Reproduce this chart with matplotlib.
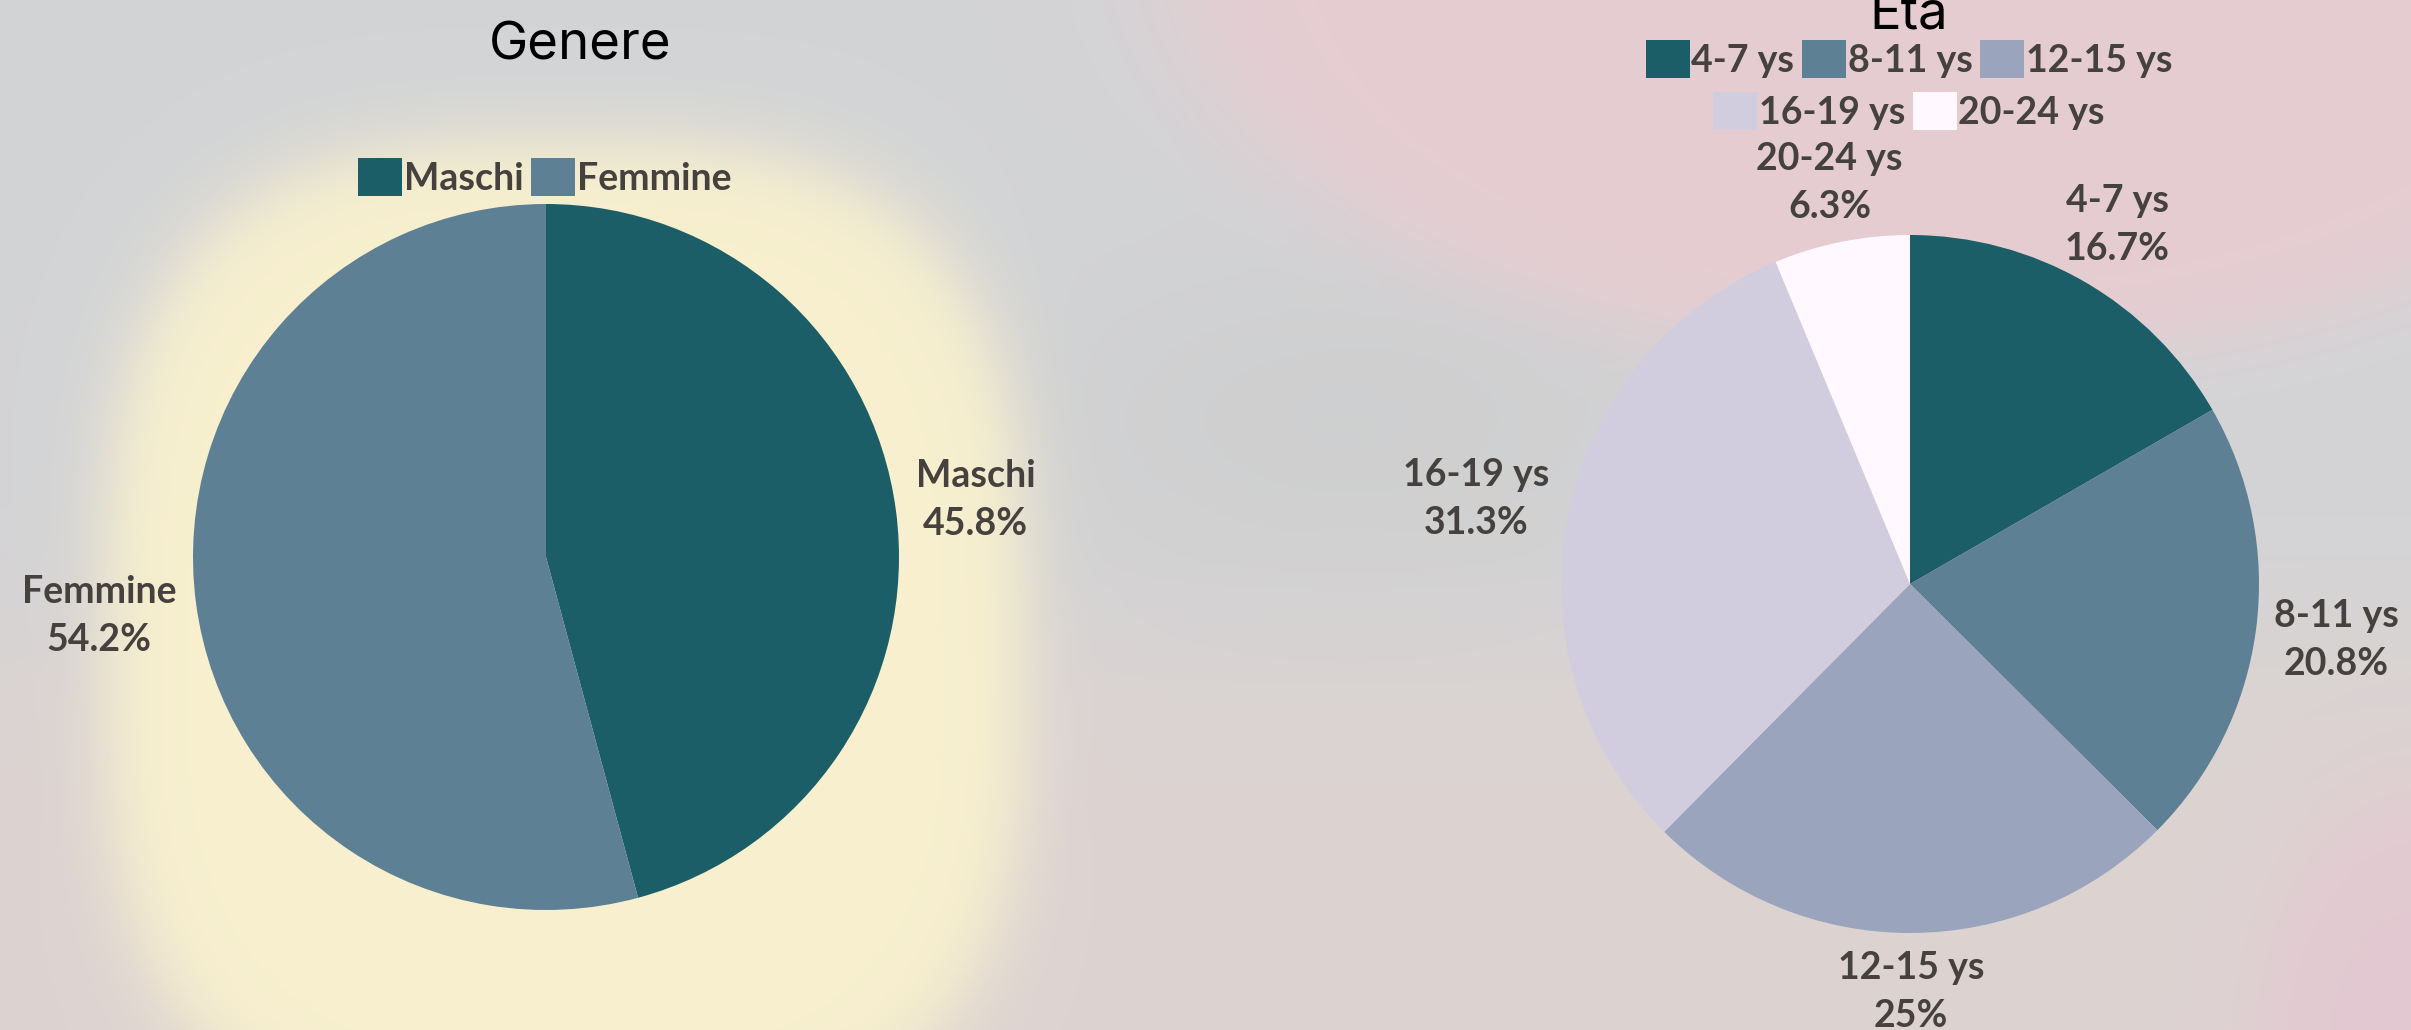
import numpy as np
import matplotlib
matplotlib.use("Agg")
import matplotlib.pyplot as plt

# dati
genere_labels = ["Maschi", "Femmine"]
genere_values = [45.8, 54.2]
eta_labels = ["4-7 ys", "8-11 ys", "12-15 ys", "16-19 ys", "20-24 ys"]
eta_values = [16.7, 20.8, 25, 31.3, 6.3]

genere_colors = ["#1b5e67", "#5e8094"]
eta_colors = ["#1b5e67", "#5e8094", "#9aa4bd", "#d1cddf", "#fff8fe"]

TEXT_COL = "#45413e"
LABEL_FONT = ["Lato", "DejaVu Sans"]
TITLE_FONT = ["Inter", "DejaVu Sans"]
FS = 27

W, H = 2411, 1030
fig = plt.figure(figsize=(W / 100, H / 100), dpi=100)
renderer = fig.canvas.get_renderer()

# sfondo sfocato (foto)
yy, xx = np.mgrid[0:H, 0:W].astype(float)
img = np.zeros((H, W, 3))
img[:] = (0.827, 0.831, 0.839)


def blend(img, mask, col):
    for k in range(3):
        img[..., k] = img[..., k] * (1 - mask) + col[k] * mask


low = 1 / (1 + np.exp(-(yy - 640) / 60))
blend(img, low, (0.866, 0.828, 0.82))
mid = np.exp(-(((xx - 1350) / 330) ** 2 + ((yy - 420) / 160) ** 2))
blend(img, mid * 0.6, (0.80, 0.80, 0.80))
d = ((np.abs(xx - 1950) / 780) ** 2 + (np.abs(yy + 60) / 420) ** 2) ** 0.5
pink = 1 / (1 + np.exp((d - 1) / 0.05))
blend(img, pink * 0.9, (0.91, 0.80, 0.82))
d = ((np.abs(xx - 2420) / 160) ** 2 + (np.abs(yy - 1060) / 260) ** 2) ** 0.5
blend(img, 1 / (1 + np.exp((d - 1) / 0.15)), (0.89, 0.79, 0.82))
d = ((np.abs(xx - 565) / 460) ** 3 + (np.abs(yy - 640) / 500) ** 3) ** (1 / 3)
glow = 1 / (1 + np.exp((d - 1) / 0.04))
blend(img, glow, (0.97, 0.94, 0.81))

bg = fig.add_axes([0, 0, 1, 1], zorder=-1)
bg.imshow(img, aspect="auto", interpolation="bilinear")
bg.axis("off")


def pie_axes(cx, cy, r):
    # cx, cy in pixel dall'alto, r = raggio in pixel
    side = 2 * 1.25 * r
    ax = fig.add_axes([(cx - side / 2) / W, (H - cy - side / 2) / H, side / W, side / H])
    return ax


def draw_pie(ax, r_px, values, labels, colors, pad=20):
    wedges, _ = ax.pie(values, colors=colors, startangle=90, counterclock=False,
                       wedgeprops=dict(linewidth=0))
    ax.set_xlim(-1.25, 1.25)
    ax.set_ylim(-1.25, 1.25)
    # etichette fuori dalla torta, lungo la bisettrice di ogni fetta
    for w, lab, v in zip(wedges, labels, values):
        th = np.deg2rad((w.theta1 + w.theta2) / 2)
        c, s = np.cos(th), np.sin(th)
        t = ax.text(c, s, f"{lab}\n{v:g}%", ha="center", va="center",
                    multialignment="center", fontsize=FS, color=TEXT_COL,
                    family=LABEL_FONT, fontweight="bold", linespacing=1.5)
        bb = t.get_window_extent(renderer)
        hw, hh = bb.width / 2, bb.height / 2
        edge = min(hw / max(abs(c), 1e-6), hh / max(abs(s), 1e-6))
        rr = 1 + (pad + edge) / r_px
        t.set_position((rr * c, rr * s))
    return wedges


def legend(handles, labels, cx, cy):
    fig.legend(handles, labels, loc="center", bbox_to_anchor=(cx / W, 1 - cy / H),
               bbox_transform=fig.transFigure, ncol=len(labels), frameon=False,
               handlelength=1.17, handleheight=1.17, handletextpad=0.05,
               columnspacing=0.2, borderpad=0, labelcolor=TEXT_COL,
               prop=dict(family=LABEL_FONT, weight="bold", size=FS))


ax1 = pie_axes(546, 557, 353)
w1 = draw_pie(ax1, 353, genere_values, genere_labels, genere_colors)
legend(w1, genere_labels, 545, 177)

ax2 = pie_axes(1910, 584, 349)
w2 = draw_pie(ax2, 349, eta_values, eta_labels, eta_colors, pad=18)
legend(w2[:3], eta_labels[:3], 1909, 59)
legend(w2[3:], eta_labels[3:], 1909, 111)

fig.text(580 / W, 1 - 60 / H, "Genere", ha="center", va="baseline",
         fontsize=38, family=TITLE_FONT, color="black")
fig.text(1909 / W, 1 - 29 / H, "Eta", ha="center", va="baseline",
         fontsize=38, family=TITLE_FONT, color="black")

fig.savefig("out.png", dpi=100)
